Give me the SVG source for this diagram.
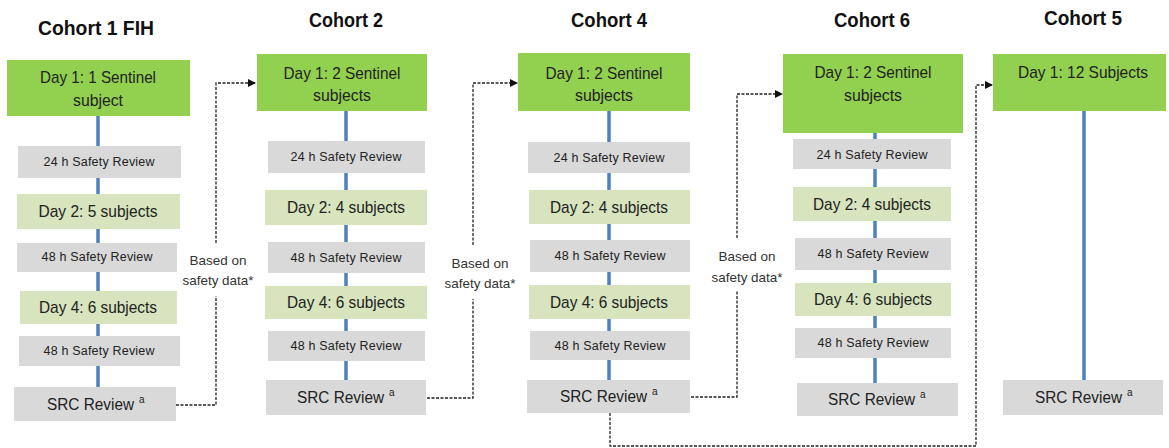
<svg xmlns="http://www.w3.org/2000/svg" width="1169" height="448" viewBox="0 0 1169 448">
<defs>
<marker id="arr" markerWidth="8" markerHeight="8" refX="7" refY="4" orient="auto" markerUnits="userSpaceOnUse">
<path d="M0,0 L8,4 L0,8 Z" fill="#111"/>
</marker>
<style>
.title{font-family:"Liberation Sans",Arial,sans-serif;font-weight:bold;font-size:20px;fill:#111;text-anchor:middle}
.t{font-family:"Liberation Sans",Arial,sans-serif;font-size:17px;fill:#222;text-anchor:middle}
.src{font-family:"Liberation Sans",Arial,sans-serif;font-size:16px;fill:#222}
.s{font-family:"Liberation Sans",Arial,sans-serif;font-size:12.5px;fill:#222;text-anchor:middle}
.lab{font-family:"Liberation Sans",Arial,sans-serif;font-size:13.5px;fill:#333;text-anchor:middle}
.sup{font-family:"Liberation Sans",Arial,sans-serif;font-size:10px;fill:#222}
.g{fill:#92D050}
.lg{fill:#D7E4BD}
.gr{fill:#D9D9D9}
.bl{stroke:#4F81BD;stroke-width:3.5}
.dash{fill:none;stroke:#222;stroke-width:1.3;stroke-dasharray:3 1.5}
</style>
</defs>
<g id="titles">
<text class="title" x="96" y="35" textLength="116" lengthAdjust="spacingAndGlyphs">Cohort 1 FIH</text>
<text class="title" x="346" y="27" textLength="74" lengthAdjust="spacingAndGlyphs">Cohort 2</text>
<text class="title" x="609" y="27" textLength="76" lengthAdjust="spacingAndGlyphs">Cohort 4</text>
<text class="title" x="872" y="27" textLength="76" lengthAdjust="spacingAndGlyphs">Cohort 6</text>
<text class="title" x="1083" y="25" textLength="78" lengthAdjust="spacingAndGlyphs">Cohort 5</text>
</g>
<g id="spines">
<line class="bl" x1="98" y1="116" x2="98" y2="387"/>
<line class="bl" x1="346" y1="111" x2="346" y2="380"/>
<line class="bl" x1="609" y1="111" x2="609" y2="380"/>
<line class="bl" x1="875" y1="133" x2="875" y2="383"/>
<line class="bl" x1="1084" y1="111" x2="1084" y2="380"/>
</g>
<g id="connectors">
<path class="dash" d="M176,405 H216 V296 M216,243 V83 H255" marker-end="url(#arr)"/>
<path class="dash" d="M427,398 H473 V299 M473,245 V83 H517" marker-end="url(#arr)"/>
<path class="dash" d="M691,397 H737 V291 M737,238 V94 H782" marker-end="url(#arr)"/>
<path class="dash" d="M610,413 V446 H976 V85 H992" marker-end="url(#arr)"/>
<text class="lab" x="218" y="265" textLength="57" lengthAdjust="spacingAndGlyphs">Based on</text>
<text class="lab" x="218" y="285" textLength="71" lengthAdjust="spacingAndGlyphs">safety data*</text>
<text class="lab" x="480" y="268" textLength="57" lengthAdjust="spacingAndGlyphs">Based on</text>
<text class="lab" x="480" y="288" textLength="71" lengthAdjust="spacingAndGlyphs">safety data*</text>
<text class="lab" x="747" y="261" textLength="57" lengthAdjust="spacingAndGlyphs">Based on</text>
<text class="lab" x="747" y="282" textLength="71" lengthAdjust="spacingAndGlyphs">safety data*</text>
</g>
<g id="c1-day1"><rect class="g" x="7" y="60" width="183" height="56"/><text class="t" x="98" y="83" textLength="116" lengthAdjust="spacingAndGlyphs">Day 1: 1 Sentinel</text><text class="t" x="98" y="106" textLength="50" lengthAdjust="spacingAndGlyphs">subject</text></g>
<g id="c1-24h"><rect class="gr" x="18" y="146" width="163" height="32"/><text class="s" x="99" y="166" textLength="111" lengthAdjust="spacing">24 h Safety Review</text></g>
<g id="c1-day2"><rect class="lg" x="17" y="194" width="163" height="35"/><text class="t" x="98" y="217" textLength="119" lengthAdjust="spacingAndGlyphs">Day 2: 5 subjects</text></g>
<g id="c1-48h-a"><rect class="gr" x="17" y="243" width="160" height="29"/><text class="s" x="97" y="261" textLength="111" lengthAdjust="spacing">48 h Safety Review</text></g>
<g id="c1-day4"><rect class="lg" x="20" y="291" width="157" height="33"/><text class="t" x="98" y="313" textLength="118" lengthAdjust="spacingAndGlyphs">Day 4: 6 subjects</text></g>
<g id="c1-48h-b"><rect class="gr" x="19" y="336" width="161" height="30"/><text class="s" x="99" y="355" textLength="111" lengthAdjust="spacing">48 h Safety Review</text></g>
<g id="c1-src"><rect class="gr" x="14" y="387" width="162" height="34"/><text class="src" x="47" y="410" textLength="87" lengthAdjust="spacingAndGlyphs">SRC Review</text><text class="sup" x="139" y="403">a</text></g>

<g id="c2-day1"><rect class="g" x="257" y="54" width="170" height="57"/><text class="t" x="342" y="79" textLength="117" lengthAdjust="spacingAndGlyphs">Day 1: 2 Sentinel</text><text class="t" x="342" y="101" textLength="58" lengthAdjust="spacingAndGlyphs">subjects</text></g>
<g id="c2-24h"><rect class="gr" x="268" y="141" width="157" height="32"/><text class="s" x="346" y="161" textLength="111" lengthAdjust="spacing">24 h Safety Review</text></g>
<g id="c2-day2"><rect class="lg" x="265" y="190" width="162" height="35"/><text class="t" x="346" y="213" textLength="118" lengthAdjust="spacingAndGlyphs">Day 2: 4 subjects</text></g>
<g id="c2-48h-a"><rect class="gr" x="268" y="242" width="157" height="31"/><text class="s" x="346" y="262" textLength="111" lengthAdjust="spacing">48 h Safety Review</text></g>
<g id="c2-day4"><rect class="lg" x="265" y="286" width="162" height="33"/><text class="t" x="346" y="308" textLength="118" lengthAdjust="spacingAndGlyphs">Day 4: 6 subjects</text></g>
<g id="c2-48h-b"><rect class="gr" x="268" y="331" width="157" height="30"/><text class="s" x="346" y="350" textLength="111" lengthAdjust="spacing">48 h Safety Review</text></g>
<g id="c2-src"><rect class="gr" x="266" y="380" width="160" height="35"/><text class="src" x="297" y="403" textLength="87" lengthAdjust="spacingAndGlyphs">SRC Review</text><text class="sup" x="389" y="396">a</text></g>

<g id="c4-day1"><rect class="g" x="518" y="53" width="172" height="58"/><text class="t" x="604" y="79" textLength="117" lengthAdjust="spacingAndGlyphs">Day 1: 2 Sentinel</text><text class="t" x="604" y="101" textLength="58" lengthAdjust="spacingAndGlyphs">subjects</text></g>
<g id="c4-24h"><rect class="gr" x="528" y="142" width="162" height="31"/><text class="s" x="609" y="162" textLength="111" lengthAdjust="spacing">24 h Safety Review</text></g>
<g id="c4-day2"><rect class="lg" x="529" y="190" width="161" height="34"/><text class="t" x="609" y="213" textLength="118" lengthAdjust="spacingAndGlyphs">Day 2: 4 subjects</text></g>
<g id="c4-48h-a"><rect class="gr" x="530" y="240" width="160" height="32"/><text class="s" x="610" y="260" textLength="111" lengthAdjust="spacing">48 h Safety Review</text></g>
<g id="c4-day4"><rect class="lg" x="529" y="285" width="161" height="34"/><text class="t" x="609" y="308" textLength="118" lengthAdjust="spacingAndGlyphs">Day 4: 6 subjects</text></g>
<g id="c4-48h-b"><rect class="gr" x="530" y="331" width="160" height="29"/><text class="s" x="610" y="350" textLength="111" lengthAdjust="spacing">48 h Safety Review</text></g>
<g id="c4-src"><rect class="gr" x="527" y="380" width="163" height="33"/><text class="src" x="560" y="402" textLength="87" lengthAdjust="spacingAndGlyphs">SRC Review</text><text class="sup" x="652" y="395">a</text></g>

<g id="c6-day1"><rect class="g" x="783" y="54" width="180" height="79"/><text class="t" x="873" y="78" textLength="117" lengthAdjust="spacingAndGlyphs">Day 1: 2 Sentinel</text><text class="t" x="873" y="101" textLength="58" lengthAdjust="spacingAndGlyphs">subjects</text></g>
<g id="c6-24h"><rect class="gr" x="793" y="139" width="158" height="30"/><text class="s" x="872" y="159" textLength="111" lengthAdjust="spacing">24 h Safety Review</text></g>
<g id="c6-day2"><rect class="lg" x="793" y="187" width="158" height="34"/><text class="t" x="872" y="210" textLength="118" lengthAdjust="spacingAndGlyphs">Day 2: 4 subjects</text></g>
<g id="c6-48h-a"><rect class="gr" x="795" y="238" width="156" height="32"/><text class="s" x="873" y="258" textLength="111" lengthAdjust="spacing">48 h Safety Review</text></g>
<g id="c6-day4"><rect class="lg" x="795" y="283" width="156" height="33"/><text class="t" x="873" y="305" textLength="118" lengthAdjust="spacingAndGlyphs">Day 4: 6 subjects</text></g>
<g id="c6-48h-b"><rect class="gr" x="795" y="328" width="156" height="30"/><text class="s" x="873" y="347" textLength="111" lengthAdjust="spacing">48 h Safety Review</text></g>
<g id="c6-src"><rect class="gr" x="797" y="383" width="161" height="33"/><text class="src" x="828" y="405" textLength="87" lengthAdjust="spacingAndGlyphs">SRC Review</text><text class="sup" x="920" y="398">a</text></g>

<g id="c5-day1"><rect class="g" x="993" y="54" width="173" height="57"/><text class="t" x="1083" y="78" textLength="130" lengthAdjust="spacingAndGlyphs">Day 1: 12 Subjects</text></g>
<g id="c5-src"><rect class="gr" x="1003" y="380" width="160" height="35"/><text class="src" x="1035" y="403" textLength="87" lengthAdjust="spacingAndGlyphs">SRC Review</text><text class="sup" x="1127" y="396">a</text></g>
</svg>
